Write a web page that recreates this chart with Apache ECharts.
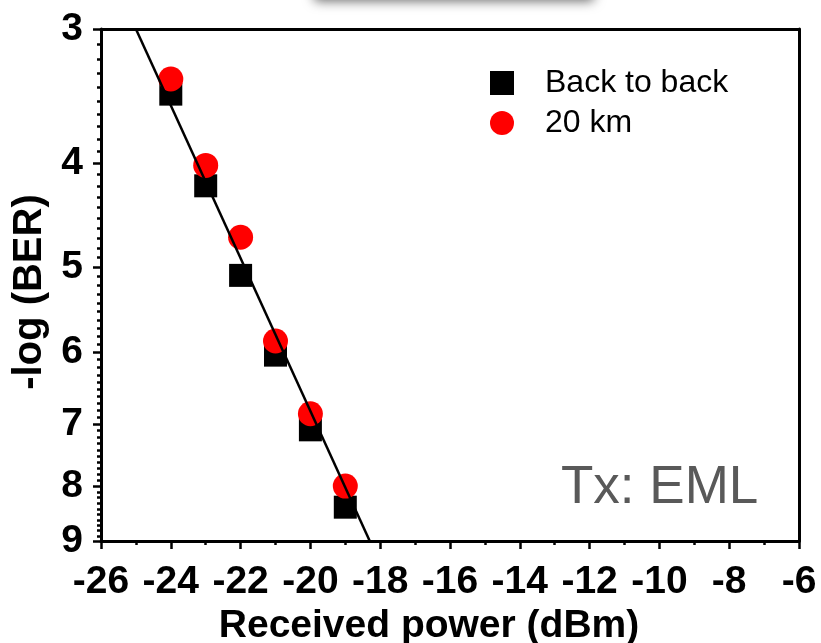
<!DOCTYPE html>
<html>
<head>
<meta charset="utf-8">
<script src="https://cdn.jsdelivr.net/npm/echarts@6/dist/echarts.min.js"></script>
<style>
  html, body { margin: 0; padding: 0; background: #fff; }
  #chart { width: 821px; height: 643px; }
</style>
</head>
<body>
<div id="chart"></div>
<script>
// received power (dBm)
const power = [-24, -23, -22, -21, -20, -19];
// -log(BER) values
const backToBack = [3.45, 4.20, 5.09, 6.04, 7.09, 8.37];
const km20 = [3.34, 4.02, 4.69, 5.86, 6.85, 8.00];
// fitted line end points
const fitX = [-25.0, -18.3];
const fitY = [3, 9];
const yTicks = [3, 4, 5, 6, 7, 8, 9];
const yMinor = [];
for (let i = 3; i < 9; i++) {
  for (let j = 1; j < 10; j++) yMinor.push(i + j / 10);
}

const font = "'Liberation Sans', Arial, sans-serif";
const lg = v => Math.log10(v);
const pair = (xs, ys) => xs.map((x, i) => [x, lg(ys[i])]);

const chart = echarts.init(document.getElementById("chart"));
const yBase = {
  type: "value",
  inverse: true,
  min: lg(3),
  max: lg(9),
  splitLine: { show: false }
};

chart.setOption({
  animation: false,
  grid: { left: 101, right: 22, top: 29, bottom: 102, outerBoundsMode: "none", containLabel: false },
  legend: {
    orient: "vertical",
    left: 485,
    top: 62,
    itemWidth: 24,
    itemHeight: 24,
    itemGap: 8,
    textStyle: { fontFamily: font, fontSize: 32, color: "#000", padding: [0, 0, 0, 26] },
    data: [
      { name: "Back to back", icon: "rect" },
      { name: "20 km", icon: "circle" }
    ]
  },
  xAxis: [
    {
      type: "value",
      min: -26,
      max: -6,
      interval: 2,
      name: "Received power (dBm)",
      nameLocation: "middle",
      nameGap: 66,
      nameTextStyle: { fontFamily: font, fontSize: 39, fontWeight: "bold", color: "#000", padding: [0, 42, 0, 0] },
      axisLine: { onZero: false, lineStyle: { color: "#000", width: 3 } },
      axisTick: { length: 8, lineStyle: { color: "#000", width: 2.5 } },
      minorTick: { show: true, splitNumber: 2, length: 4, lineStyle: { color: "#000", width: 2.5 } },
      axisLabel: { fontFamily: font, fontSize: 39, fontWeight: "bold", color: "#000", margin: 22 },
      splitLine: { show: false }
    },
    {
      type: "value",
      position: "top",
      min: -26,
      max: -6,
      axisLine: { onZero: false, lineStyle: { color: "#000", width: 3 } },
      axisTick: { show: false },
      axisLabel: { show: false },
      splitLine: { show: false }
    }
  ],
  yAxis: [
    Object.assign({}, yBase, {
      name: "-log (BER)",
      nameLocation: "middle",
      nameGap: 45,
      nameTextStyle: { fontFamily: font, fontSize: 40, fontWeight: "bold", color: "#000", padding: [0, 14, 0, 0] },
      axisLine: { onZero: false, lineStyle: { color: "#000", width: 3 } },
      axisTick: { length: 8, customValues: yTicks.map(lg), lineStyle: { color: "#000", width: 2.5 } },
      axisLabel: {
        customValues: yTicks.map(lg),
        formatter: v => String(Math.round(Math.pow(10, v))),
        fontFamily: font, fontSize: 39, fontWeight: "bold", color: "#000", margin: 18
      }
    }),
    Object.assign({}, yBase, {
      position: "left",
      axisLine: { show: false },
      axisTick: { length: 4, customValues: yMinor.map(lg), lineStyle: { color: "#000", width: 2.5 } },
      axisLabel: { show: false }
    }),
    Object.assign({}, yBase, {
      position: "right",
      axisLine: { onZero: false, lineStyle: { color: "#000", width: 3 } },
      axisTick: { show: false },
      axisLabel: { show: false }
    })
  ],
  series: [
    {
      name: "Back to back",
      type: "scatter",
      symbol: "rect",
      symbolSize: 23,
      itemStyle: { color: "#000", opacity: 1 },
      data: pair(power, backToBack),
      z: 2
    },
    {
      name: "20 km",
      type: "scatter",
      symbol: "circle",
      symbolSize: 25,
      itemStyle: { color: "#ff0000", opacity: 1 },
      data: pair(power, km20),
      z: 3
    },
    {
      name: "fit",
      type: "line",
      showSymbol: false,
      symbol: "none",
      lineStyle: { color: "#000", width: 2.5 },
      data: pair(fitX, fitY),
      z: 4
    }
  ],
  graphic: [
    {
      type: "rect",
      shape: { x: 314, y: -44, width: 280, height: 44, r: 4 },
      style: { fill: "#fff", shadowBlur: 12, shadowColor: "rgba(0,0,0,0.6)", shadowOffsetY: 1 },
      z: 1
    },
    {
      type: "text",
      left: 561,
      top: 462,
      style: { text: "Tx: EML", fontFamily: font, fontSize: 53, fill: "#595959" },
      z: 5
    }
  ]
});
</script>
</body>
</html>
